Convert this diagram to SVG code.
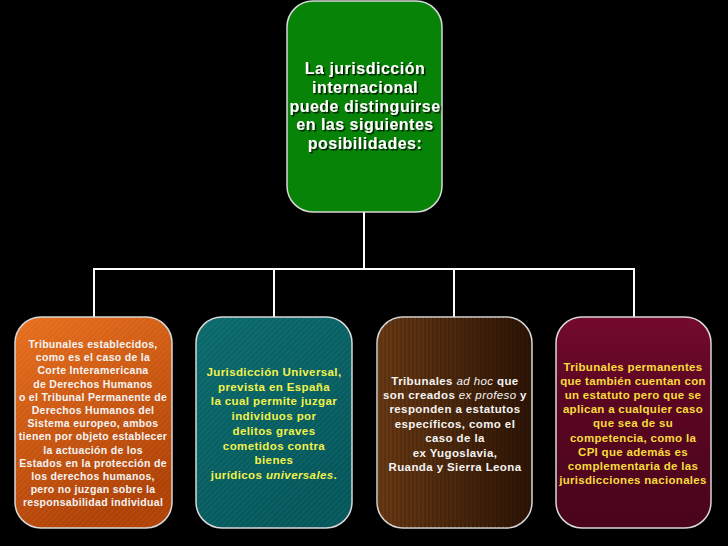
<svg xmlns="http://www.w3.org/2000/svg" width="728" height="546" viewBox="0 0 728 546">
<defs>
<style>
.box{stroke:#d8d8d8;stroke-width:1.5}
.conn{stroke:#ffffff;stroke-width:2;fill:none}
.t{font-family:"Liberation Sans",Arial,sans-serif;font-weight:bold;text-anchor:middle}
.top{font-size:16px;letter-spacing:0.5px;fill:#ffffff}
.n1{font-size:10.5px;letter-spacing:0.3px;fill:#f4f4f4}
.n2{font-size:11.5px;letter-spacing:0.4px;fill:#f2f24a}
.n3{font-size:11.5px;letter-spacing:0.4px;fill:#f4f4f4}
.n4{font-size:11.5px;letter-spacing:0.3px;fill:#f7dc3a}
</style>
<filter id="sh" x="-10%" y="-10%" width="120%" height="130%">
<feDropShadow dx="1.5" dy="1.5" stdDeviation="0.6" flood-color="#000" flood-opacity="0.8"/>
</filter>
<linearGradient id="gOr" x1="0" y1="0" x2="0.4" y2="1">
<stop offset="0" stop-color="#e8701e"/><stop offset="1" stop-color="#b04206"/>
</linearGradient>
<linearGradient id="gTe" x1="0" y1="0" x2="0.6" y2="1">
<stop offset="0" stop-color="#0b6a6c"/><stop offset="1" stop-color="#04575b"/>
</linearGradient>
<linearGradient id="gBr" x1="0" y1="0" x2="1" y2="0">
<stop offset="0" stop-color="#6a3a14"/><stop offset="1" stop-color="#2c1405"/>
</linearGradient>
<linearGradient id="gMa" x1="0" y1="0" x2="0" y2="1">
<stop offset="0" stop-color="#740a2e"/><stop offset="0.4" stop-color="#5a0622"/><stop offset="1" stop-color="#4a041c"/>
</linearGradient>
<pattern id="diag" width="4" height="4" patternUnits="userSpaceOnUse" patternTransform="rotate(45)">
<line x1="0" y1="0" x2="0" y2="4" stroke="#ffffff" stroke-opacity="0.08" stroke-width="1.5"/>
</pattern>
<pattern id="vert" width="4" height="4" patternUnits="userSpaceOnUse">
<line x1="1" y1="0" x2="1" y2="4" stroke="#000000" stroke-opacity="0.15" stroke-width="1.5"/>
</pattern>
</defs>
<rect width="728" height="546" fill="#000000"/>
<g id="connectors">
<path class="conn" d="M364,212 V269 M94,269 H634 M94,268 V318 M274,268 V318 M454,268 V318 M634,268 V318"/>
</g>
<g id="node-top">
<rect class="box" x="287" y="1" width="155" height="211" rx="26" fill="#078407" stroke="#d4ecd4"/>
<g class="t top" filter="url(#sh)">
<text x="365" y="74">La jurisdicción</text>
<text x="365" y="92.8">internacional</text>
<text x="365" y="111.5">puede distinguirse</text>
<text x="365" y="130.3">en las siguientes</text>
<text x="365" y="149">posibilidades:</text>
</g>
</g>
<g id="node-1">
<rect class="box" x="15" y="317" width="157" height="211" rx="26" fill="url(#gOr)"/>
<rect x="15" y="317" width="157" height="211" rx="26" fill="url(#diag)"/>
<g class="t n1">
<text x="93" y="348">Tribunales establecidos,</text>
<text x="93" y="361.2">como es el caso de la</text>
<text x="93" y="374.4">Corte Interamericana</text>
<text x="93" y="387.6">de Derechos Humanos</text>
<text x="93" y="400.8">o el Tribunal Permanente de</text>
<text x="93" y="414">Derechos Humanos del</text>
<text x="93" y="427.2">Sistema europeo, ambos</text>
<text x="93" y="440.4">tienen por objeto establecer</text>
<text x="93" y="453.6">la actuación de los</text>
<text x="93" y="466.8">Estados en la protección de</text>
<text x="93" y="480">los derechos humanos,</text>
<text x="93" y="493.2">pero no juzgan sobre la</text>
<text x="93" y="506.4">responsabilidad individual</text>
</g>
</g>
<g id="node-2">
<rect class="box" x="196" y="317" width="156" height="211" rx="26" fill="url(#gTe)"/>
<rect x="196" y="317" width="156" height="211" rx="26" fill="url(#diag)"/>
<g class="t n2">
<text x="274" y="376">Jurisdicción Universal,</text>
<text x="274" y="390.7">prevista en España</text>
<text x="274" y="405.4">la cual permite juzgar</text>
<text x="274" y="420.1">individuos por</text>
<text x="274" y="434.8">delitos graves</text>
<text x="274" y="449.5">cometidos contra</text>
<text x="274" y="464.2">bienes</text>
<text x="274" y="478.9">jurídicos <tspan font-style="italic">universales</tspan>.</text>
</g>
</g>
<g id="node-3">
<rect class="box" x="377" y="317" width="155" height="211" rx="26" fill="url(#gBr)"/>
<rect x="377" y="317" width="155" height="211" rx="26" fill="url(#vert)"/>
<g class="t n3">
<text x="455" y="384.5">Tribunales <tspan font-style="italic" font-weight="normal">ad hoc</tspan> que</text>
<text x="455" y="398.9">son creados <tspan font-style="italic" font-weight="normal">ex profeso</tspan> y</text>
<text x="455" y="413.3">responden a estatutos</text>
<text x="455" y="427.7">específicos, como el</text>
<text x="455" y="442.1">caso de la</text>
<text x="455" y="456.5">ex Yugoslavia,</text>
<text x="455" y="470.9">Ruanda y Sierra Leona</text>
</g>
</g>
<g id="node-4">
<rect class="box" x="556" y="317" width="155" height="211" rx="26" fill="url(#gMa)"/>
<g class="t n4">
<text x="633" y="370.5">Tribunales permanentes</text>
<text x="633" y="384.7">que también cuentan con</text>
<text x="633" y="398.9">un estatuto pero que se</text>
<text x="633" y="413.1">aplican a cualquier caso</text>
<text x="633" y="427.3">que sea de su</text>
<text x="633" y="441.5">competencia, como la</text>
<text x="633" y="455.7">CPI que además es</text>
<text x="633" y="469.9">complementaria de las</text>
<text x="633" y="484.1">jurisdicciones nacionales</text>
</g>
</g>
</svg>
